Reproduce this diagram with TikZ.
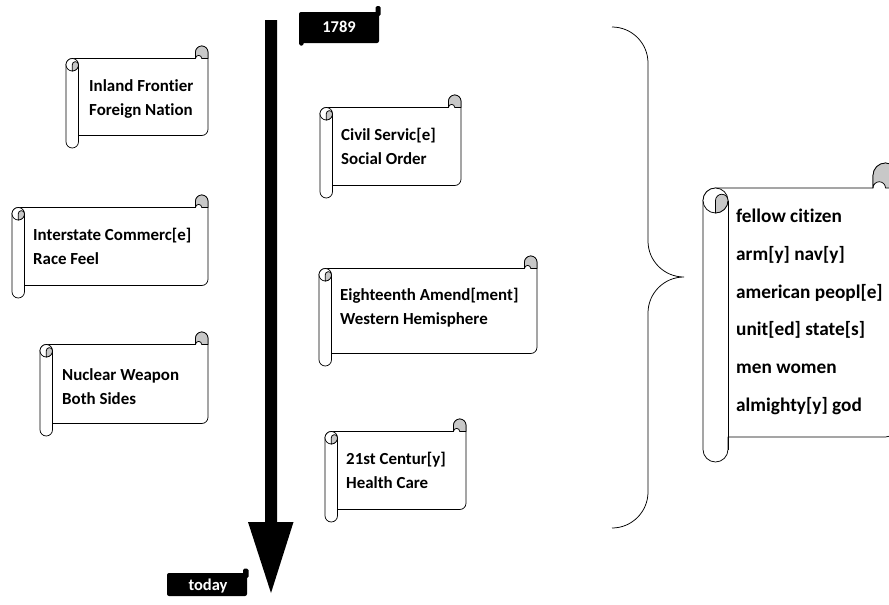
\documentclass[tikz,border=0pt]{standalone}
\usepackage{fontspec}
\setmainfont{Carlito}[Ligatures=NoCommon]
\usetikzlibrary{calc}

\definecolor{curlgray}{RGB}{200,200,200}
\tikzset{
  scrollline/.style={draw=black, line width=0.75pt, line join=round},
  scrolltext/.style={font=\bfseries\fontsize{16.9}{20}\selectfont, inner sep=0pt, anchor=base west},
  bigtext/.style={scrolltext, font=\bfseries\fontsize{19.3}{22}\selectfont},
  flagtext/.style={font=\bfseries\fontsize{16.5}{19}\selectfont, text=white, inner sep=0pt},
}

% scroll: left, top, right, bottom, curl size (y runs downward)
\newcommand{\scrollbox}[5]{%
  \pgfmathsetmacro{\sxl}{#1}\pgfmathsetmacro{\syt}{#2}%
  \pgfmathsetmacro{\sxr}{#3}\pgfmathsetmacro{\syb}{#4}%
  \pgfmathsetmacro{\scc}{#5}\pgfmathsetmacro{\sch}{#5/2}\pgfmathsetmacro{\scq}{#5/4}%
  \path[scrollline, fill=white]
    (\sxl+\sch, \syt+\scc) -- (\sxr-\scc, \syt+\scc) -- (\sxr-\scc, \syt+\sch)
    arc[start angle=180, end angle=360, radius=\sch]
    -- (\sxr, \syb-\scc-\sch)
    arc[start angle=0, end angle=90, radius=\sch]
    -- (\sxl+\scc, \syb-\scc) -- (\sxl+\scc, \syb-\sch)
    arc[start angle=0, end angle=180, radius=\sch]
    -- (\sxl, \syt+3*\sch)
    arc[start angle=180, end angle=270, radius=\sch] -- cycle;
  % top right curl
  \path[scrollline, fill=curlgray]
    (\sxr-\scc, \syt+\sch) arc[start angle=180, end angle=360, radius=\sch]
    -- (\sxr, \syt+\scc) -- (\sxr-\sch, \syt+\scc)
    arc[start angle=0, end angle=-180, radius=\scq] -- cycle;
  % left roll
  \path[scrollline, fill=white] (\sxl+\sch, \syt+3*\sch) circle[radius=\sch];
  \path[scrollline, fill=curlgray]
    (\sxl+\sch, \syt+2*\scc) arc[start angle=90, end angle=0, radius=\sch]
    arc[start angle=0, end angle=-180, radius=\scq] -- cycle;
  \draw[scrollline] (\sxl+\scc, \syt+3*\sch) -- (\sxl+\scc, \syb-\sch);
}

\begin{document}
\begin{tikzpicture}[x=1pt, y=-1pt]
  \useasboundingbox (0,0) rectangle (889,605);
  \clip (0,0) rectangle (889,605);

  % time arrow
  \fill[black] (265,20) -- (277,20) -- (277,522) -- (293.5,522) -- (271,593)
    -- (248,522) -- (265,522) -- cycle;

  % start and end flags
  \fill[black, rounded corners=2pt] (299,12) rectangle (379,43);
  \fill[black, rounded corners=1.5pt] (375.5,6) rectangle (380.5,16);
  \fill[black, rounded corners=1.5pt] (299,38) rectangle (303.5,45.5);
  \node[flagtext] (start) at (339,27) {1789};

  \fill[black, rounded corners=2pt] (167,573) rectangle (247,596);
  \fill[black, rounded corners=1.5pt] (243,568.5) rectangle (248.5,578);
  \node[flagtext] (today) at (208,586) {today};

  % left column
  \scrollbox{66}{46}{208}{148}{12.5}
  \node[scrolltext] (inland) at (89,91) {Inland Frontier};
  \node[scrolltext] (foreign) at (89,115) {Foreign Nation};

  \scrollbox{12}{195}{208}{298}{12.5}
  \node[scrolltext] (interstate) at (33,240) {Interstate Commerc[e]};
  \node[scrolltext] (race) at (33,264) {Race Feel};

  \scrollbox{40}{332}{208}{436}{12.5}
  \node[scrolltext] (nuclear) at (62,380) {Nuclear Weapon};
  \node[scrolltext] (sides) at (62,404) {Both Sides};

  % right column
  \scrollbox{320}{95}{461}{198}{12.5}
  \node[scrolltext] (civil) at (341,140) {Civil Servic[e]};
  \node[scrolltext] (social) at (341,164) {Social Order};

  \scrollbox{319}{256}{537}{366}{12.5}
  \node[scrolltext] (amend) at (340,300) {Eighteenth Amend[ment]};
  \node[scrolltext] (western) at (340,324) {Western Hemisphere};

  \scrollbox{325}{419}{466}{522}{12.5}
  \node[scrolltext] (century) at (346,464) {21st Centur[y]};
  \node[scrolltext] (health) at (346,488) {Health Care};

  % brace
  \draw[line width=0.75pt] (612,27) arc[start angle=-90, end angle=0, radius=36]
    -- (648,241) arc[start angle=180, end angle=90, radius=36]
    arc[start angle=-90, end angle=-180, radius=36]
    -- (648,492) arc[start angle=0, end angle=90, radius=36];

  % constant terms
  \scrollbox{703}{163}{898}{462}{25}
  \node[bigtext] (fellow) at (736,222) {fellow citizen};
  \node[bigtext] (army) at (736,260) {arm[y] nav[y]};
  \node[bigtext] (people) at (736,298) {american peopl[e]};
  \node[bigtext] (states) at (736,335) {unit[ed] state[s]};
  \node[bigtext] (men) at (736,373) {men women};
  \node[bigtext] (god) at (736,411) {almighty[y] god};
\end{tikzpicture}
\end{document}
